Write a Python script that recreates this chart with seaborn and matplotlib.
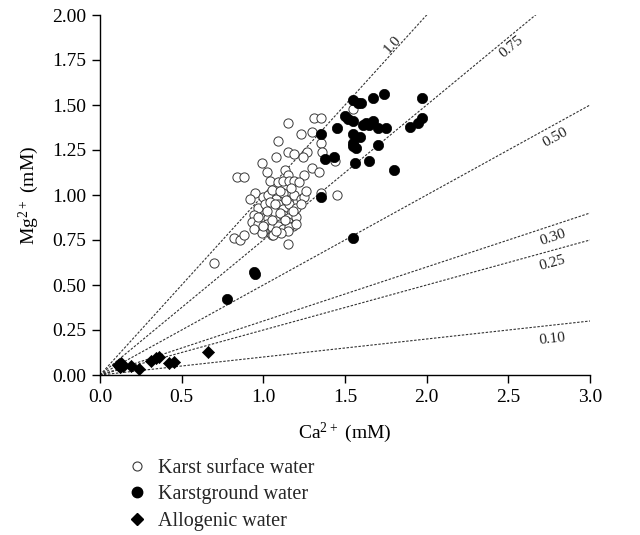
import math
import matplotlib
matplotlib.use("Agg")
import matplotlib.pyplot as plt
from matplotlib.lines import Line2D
import seaborn as sns

# Karst surface water (open circles)
surface_ca = [1.31, 1.35, 1.15, 1.23, 1.30, 1.35, 1.09, 1.15, 1.19, 1.27, 1.36, 1.24, 1.08, 0.99,
              1.02, 1.30, 1.34, 0.84, 0.88, 1.13, 1.15, 1.25, 1.04, 1.09, 1.12, 1.16, 1.19, 1.22,
              0.95, 0.92, 1.00, 1.03, 1.08, 1.12, 1.15, 1.19, 1.23, 1.25, 1.45, 0.97, 1.01, 1.04,
              1.09, 1.12, 1.16, 1.20, 0.94, 0.99, 1.03, 1.08, 1.12, 1.15, 1.20, 0.93, 0.97, 1.02,
              1.06, 1.10, 1.15, 1.18, 0.94, 1.00, 1.05, 1.09, 1.12, 1.16, 1.20, 0.99, 1.05, 1.15,
              0.82, 0.86, 0.88, 1.06, 1.11, 1.15, 0.70, 1.55, 1.44, 1.35, 1.05, 1.10, 1.17, 1.07,
              1.14, 1.02, 1.10, 1.18, 0.97, 1.05, 1.13, 1.00, 1.08, 1.23, 1.26]
surface_mg = [1.43, 1.43, 1.40, 1.34, 1.35, 1.29, 1.30, 1.24, 1.23, 1.24, 1.24, 1.21, 1.21, 1.18,
              1.13, 1.15, 1.13, 1.10, 1.10, 1.14, 1.11, 1.11, 1.08, 1.07, 1.08, 1.08, 1.08, 1.07,
              1.01, 0.98, 0.99, 1.00, 0.98, 1.01, 0.97, 1.00, 0.98, 0.99, 1.00, 0.93, 0.95, 0.96,
              0.95, 0.92, 0.95, 0.93, 0.89, 0.87, 0.87, 0.86, 0.89, 0.87, 0.88, 0.85, 0.84, 0.84,
              0.83, 0.84, 0.85, 0.83, 0.81, 0.80, 0.82, 0.83, 0.81, 0.82, 0.84, 0.79, 0.78, 0.80,
              0.76, 0.75, 0.78, 0.78, 0.79, 0.73, 0.62, 1.48, 1.19, 1.01, 1.03, 1.02, 1.04, 0.95,
              0.97, 0.91, 0.90, 0.91, 0.88, 0.86, 0.86, 0.83, 0.80, 0.95, 1.02]

# Karstground water (filled circles)
ground_ca = [0.78, 0.94, 0.95, 1.35, 1.38, 1.43, 1.35, 1.45, 1.50, 1.52, 1.55, 1.55, 1.58, 1.60,
             1.67, 1.74, 1.97, 1.61, 1.63, 1.65, 1.67, 1.70, 1.75, 1.90, 1.95, 1.97, 1.55, 1.59,
             1.55, 1.55, 1.57, 1.70, 1.56, 1.65, 1.80, 1.55]
ground_mg = [0.42, 0.57, 0.56, 0.99, 1.20, 1.21, 1.34, 1.37, 1.44, 1.42, 1.41, 1.53, 1.51, 1.51,
             1.54, 1.56, 1.54, 1.39, 1.40, 1.39, 1.41, 1.37, 1.37, 1.38, 1.40, 1.43, 1.34, 1.32,
             1.29, 1.27, 1.26, 1.28, 1.18, 1.19, 1.14, 0.76]

# Allogenic water (diamonds)
allogenic_ca = [0.11, 0.13, 0.12, 0.14, 0.19, 0.24, 0.31, 0.34, 0.36, 0.42, 0.45, 0.66]
allogenic_mg = [0.056, 0.067, 0.044, 0.050, 0.050, 0.033, 0.078, 0.094, 0.100, 0.067, 0.072, 0.128]

# Mg/Ca reference ratios
ratios = [1.0, 0.75, 0.50, 0.30, 0.25, 0.10]
ratio_labels = ["1.0", "0.75", "0.50", "0.30", "0.25", "0.10"]

sns.set_theme(style="ticks")
plt.rcParams["font.family"] = ["Liberation Serif", "DejaVu Serif"]
plt.rcParams["mathtext.fontset"] = "custom"
plt.rcParams["mathtext.rm"] = "Liberation Serif"
plt.rcParams["mathtext.default"] = "regular"

fig = plt.figure(figsize=(6.4, 5.35), dpi=100)
ax = fig.add_axes([100 / 640, 1 - 375 / 535, 490 / 640, 360 / 535])
ax.set_xlim(0, 3)
ax.set_ylim(0, 2)

dash = (0, (2.2, 1.4))
for r in ratios:
    ax.plot([0, 3], [0, 3 * r], color="#333333", linestyle=dash, linewidth=0.8, zorder=1)

sns.scatterplot(x=surface_ca, y=surface_mg, marker="o", s=44, color="white",
                edgecolor="#3a3a3a", linewidth=0.7, ax=ax, zorder=3)
sns.scatterplot(x=ground_ca, y=ground_mg, marker="o", s=55, color="black",
                edgecolor="black", linewidth=0.5, ax=ax, zorder=4)
sns.scatterplot(x=allogenic_ca, y=allogenic_mg, marker="D", s=38, color="black",
                edgecolor="black", linewidth=0.5, ax=ax, zorder=4)

# ratio labels, rotated along each line
label_x = {"1.0": 1.79, "0.75": 2.52, "0.50": 2.79, "0.30": 2.77, "0.25": 2.77, "0.10": 2.77}
label_dy = {"1.0": 6, "0.75": -9, "0.50": -10, "0.30": -9, "0.25": -9, "0.10": -10}
for r, lab in zip(ratios, ratio_labels):
    p0 = ax.transData.transform((0, 0))
    p1 = ax.transData.transform((1, r))
    ang = math.degrees(math.atan2(p1[1] - p0[1], p1[0] - p0[0]))
    x = label_x[lab]
    ax.annotate(lab, xy=(x, r * x), xytext=(0, label_dy[lab]), textcoords="offset points",
                rotation=ang, rotation_mode="anchor", ha="center", va="center",
                fontsize=11, color="#222222")

ax.set_xticks([0, 0.5, 1.0, 1.5, 2.0, 2.5, 3.0])
ax.set_xticklabels(["0.0", "0.5", "1.0", "1.5", "2.0", "2.5", "3.0"])
ax.set_yticks([0, 0.25, 0.5, 0.75, 1.0, 1.25, 1.5, 1.75, 2.0])
ax.set_yticklabels(["0.00", "0.25", "0.50", "0.75", "1.00", "1.25", "1.50", "1.75", "2.00"])
ax.tick_params(direction="out", length=6, width=1, labelsize=14, colors="black", pad=4)
for s in ["left", "bottom"]:
    ax.spines[s].set_color("black")
    ax.spines[s].set_linewidth(1)
sns.despine(ax=ax)

ax.set_xlabel("Ca$^{2+}$ (mM)", fontsize=14, color="black", labelpad=11)
ax.set_ylabel("Mg$^{2+}$ (mM)", fontsize=14, color="black", labelpad=8)

handles = [
    Line2D([], [], marker="o", linestyle="none", markersize=6.5, markerfacecolor="white",
           markeredgecolor="#3a3a3a", markeredgewidth=0.8),
    Line2D([], [], marker="o", linestyle="none", markersize=7.5, color="black"),
    Line2D([], [], marker="D", linestyle="none", markersize=6, color="black"),
]
fig.legend(handles, ["Karst surface water", "Karstground water", "Allogenic water"],
           loc="upper left", bbox_to_anchor=(127 / 640, 1 - 459 / 535), frameon=False,
           fontsize=14.5, handlelength=1.0, handletextpad=0.55, labelspacing=0.36,
           borderaxespad=0, borderpad=0)

fig.savefig("out.png", dpi=100)
